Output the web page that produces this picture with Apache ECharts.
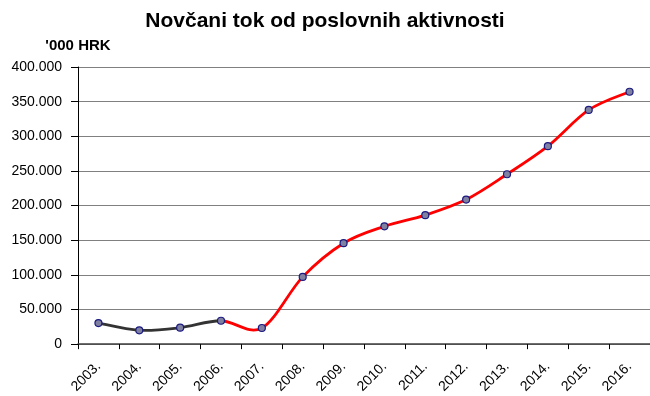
<!DOCTYPE html>
<html>
<head>
<meta charset="utf-8">
<script src="https://cdn.jsdelivr.net/npm/echarts@6/dist/echarts.min.js"></script>
<style>
  html, body { margin: 0; padding: 0; background: #fff; }
  #chart { width: 650px; height: 396px; }
</style>
</head>
<body>
<div id="chart"></div>
<script>
// Operating cash flow, in thousands of HRK
const years = ['2003.', '2004.', '2005.', '2006.', '2007.', '2008.', '2009.',
               '2010.', '2011.', '2012.', '2013.', '2014.', '2015.', '2016.'];
const cashFlow = [30400, 20000, 23800, 33800, 23300, 97100, 145700,
                  170000, 186200, 208600, 245200, 285700, 338000, 364300];
// index of the last year drawn in the dark colour
const splitIndex = 3;

const FONT = '"Liberation Sans", Arial, sans-serif';
const DARK = '#333333', RED = '#ff0000';

function fmtThousands(v) {
  return String(v).replace(/\B(?=(\d{3})+(?!\d))/g, '.');
}

// Smoothed line drawn as Catmull-Rom style cubic segments between the
// projected data points (tangent = (next - prev) / 6 at each point).
function renderSmoothLine(params, api) {
  if (params.dataIndex !== 0) return null;
  const pts = cashFlow.map((v, i) => api.coord([i, v]));
  const n = pts.length;
  const children = [];
  for (let i = 0; i < n - 1; i++) {
    const p0 = pts[Math.max(i - 1, 0)];
    const p1 = pts[i];
    const p2 = pts[i + 1];
    const p3 = pts[Math.min(i + 2, n - 1)];
    children.push({
      type: 'bezierCurve',
      shape: {
        x1: p1[0], y1: p1[1],
        cpx1: p1[0] + (p2[0] - p0[0]) / 6, cpy1: p1[1] + (p2[1] - p0[1]) / 6,
        cpx2: p2[0] - (p3[0] - p1[0]) / 6, cpy2: p2[1] - (p3[1] - p1[1]) / 6,
        x2: p2[0], y2: p2[1]
      },
      style: {
        fill: null,
        stroke: i < splitIndex ? DARK : RED,
        lineWidth: 2.8,
        lineCap: 'round'
      }
    });
  }
  return { type: 'group', children: children };
}

const chart = echarts.init(document.getElementById('chart'), null, { renderer: 'canvas' });

chart.setOption({
  animation: false,
  backgroundColor: '#ffffff',
  textStyle: { fontFamily: FONT },
  title: {
    text: 'Novčani tok od poslovnih aktivnosti',
    left: 'center',
    top: 6,
    textStyle: { fontFamily: FONT, fontSize: 21, fontWeight: 'bold', color: '#000' }
  },
  grid: { left: 78, top: 67, width: 577, height: 279, containLabel: false },
  xAxis: {
    type: 'category',
    data: years,
    boundaryGap: true,
    axisLine: { lineStyle: { color: '#404040', width: 1.5 } },
    axisTick: { show: true, length: 5, lineStyle: { color: '#000', width: 1 } },
    axisLabel: {
      interval: 0, rotate: 45, margin: 20,
      fontFamily: FONT, fontSize: 14, color: '#000'
    },
    splitLine: { show: false }
  },
  yAxis: {
    type: 'value',
    min: 0, max: 400000, interval: 50000,
    name: "'000 HRK",
    nameLocation: 'end',
    nameGap: 14,
    nameTextStyle: { fontFamily: FONT, fontSize: 15, fontWeight: 'bold', color: '#000' },
    axisLine: { show: true, lineStyle: { color: '#000', width: 1 } },
    axisTick: { show: true, length: 7, lineStyle: { color: '#000', width: 1 } },
    axisLabel: {
      margin: 16, fontFamily: FONT, fontSize: 14, color: '#000',
      formatter: fmtThousands
    },
    splitLine: { show: true, lineStyle: { color: '#808080', width: 1.2 } }
  },
  series: [
    {
      name: 'line',
      type: 'custom',
      data: cashFlow.map((v, i) => [i, v]),
      renderItem: renderSmoothLine,
      clip: false,
      silent: true,
      z: 2
    },
    {
      name: 'points',
      type: 'line',
      data: cashFlow,
      symbol: 'circle',
      symbolSize: 7,
      showSymbol: true,
      lineStyle: { width: 0, opacity: 0 },
      itemStyle: { color: '#8080a0', borderColor: '#1a1a80', borderWidth: 1.2 },
      z: 3
    }
  ]
});
</script>
</body>
</html>
